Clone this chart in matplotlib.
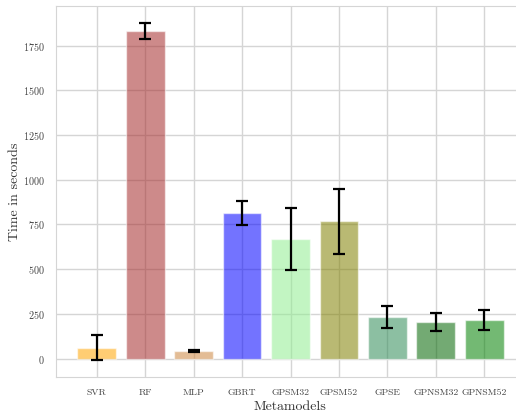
import matplotlib
matplotlib.use("Agg")
import matplotlib.pyplot as plt
import seaborn as sns

sns.set_style("whitegrid")
plt.rcParams["font.family"] = ["cmr10", "DejaVu Serif"]
plt.rcParams["axes.formatter.use_mathtext"] = True

models = ["SVR", "RF", "MLP", "GBRT", "GPSM32", "GPSM52", "GPSE", "GPNSM32", "GPNSM52"]
mean_time = [60, 1832, 42, 815, 669, 769, 233, 205, 216]
std_time = [70, 47, 7, 67, 172, 182, 62, 52, 54]
colors = ["orange", "brown", "peru", "blue", "lightgreen", "olive",
          "seagreen", "darkgreen", "green"]

fig = plt.figure(figsize=(5.16, 4.15), dpi=100)
# axes run past the right edge of the canvas
ax = fig.add_axes([56 / 516, 38 / 415, 469 / 516, 371 / 415])

x = list(range(len(models)))
ax.bar(x, mean_time, width=0.8, color=colors, alpha=0.55, zorder=2)
ax.errorbar(x, mean_time, yerr=std_time, fmt="none", ecolor="black",
            elinewidth=1.6, capsize=4, capthick=1.6, zorder=3)

ax.set_xticks(x)
ax.set_xticklabels(models)
ax.set_yticks([0, 250, 500, 750, 1000, 1250, 1500, 1750])
ax.set_xlim(-0.84, 8.84)
ax.set_ylim(-103, 1972)
ax.grid(True, color="#d5d5d5", linewidth=1.0, zorder=1)
ax.set_axisbelow(True)
for s in ax.spines.values():
    s.set_color("#d5d5d5")
ax.tick_params(axis="both", colors="#444444", length=3,
               color="#d5d5d5", pad=5)
ax.tick_params(axis="y", labelsize=7.3)
ax.tick_params(axis="x", labelsize=7.0)
ax.set_xlabel("Metamodels", fontsize=10, color="#333333", labelpad=3)
ax.set_ylabel("Time in seconds", fontsize=10, color="#333333", labelpad=1.5)

fig.savefig("out.png", dpi=100)
